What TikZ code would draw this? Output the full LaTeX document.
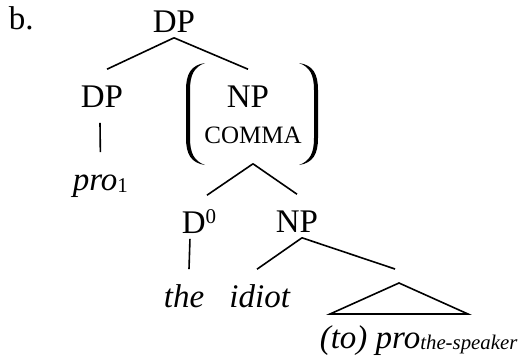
\documentclass[tikz,border=0pt]{standalone}
\usepackage{fontspec}
\setmainfont{Liberation Serif}

\begin{document}
\begin{tikzpicture}[x=0.5pt,y=-0.5pt,thick,
lab/.style={inner xsep=0pt, inner ysep=2.5pt, text height=16pt, text depth=0pt, anchor=base, font=\fontsize{16.5}{19}\selectfont}] % lab is every category or word of the tree, placed at its baseline, so the edges can start right under it
\useasboundingbox (0,0) rectangle (519,360);

\node[lab, anchor=base west](ex) at (8,29){b.};
\node[lab](dp) at (174,32){DP};% the root
\node[lab](dpl) at (102,107){DP};
\node[lab, anchor=base west](pro) at (72,190){\textit{pro}\raisebox{-1pt}{\fontsize{10.5}{10.5}\selectfont 1}};
\node[lab](np) at (248,107){NP};
\node[lab, font=\fontsize{12.5}{14}\selectfont](comma) at (253,143){COMMA};
\node[lab, anchor=base west](d) at (181,233){D\raisebox{5pt}{\fontsize{10.5}{10.5}\selectfont 0}};
\node[lab](npl) at (297,232){NP};
\node[lab](the) at (184,307){\textit{the}};
\node[lab](idiot) at (260,307){\textit{idiot}};
\coordinate (tri) at (399,283);% top of the triangle
\node[lab, anchor=base west](tobj) at (319,348){\textit{(to) pro}\raisebox{-0.5pt}{\fontsize{10.4}{11}\selectfont\textit{the-speaker}}};

% round brackets around NP / COMMA, filled so they get thin at the ends
\fill (205,63) .. controls (191,65) and (186,74) .. (186,90) -- (186,138) .. controls (186,154) and (191,163) .. (205,165) .. controls (194,161) and (190,153) .. (190,138) -- (190,90) .. controls (190,75) and (194,67) .. (205,63) -- cycle;
\fill (299,63) .. controls (313,65) and (318,74) .. (318,90) -- (318,138) .. controls (318,154) and (313,163) .. (299,165) .. controls (310,161) and (314,153) .. (314,138) -- (314,90) .. controls (314,75) and (310,67) .. (299,63) -- cycle;

% the branches
\path(dp.south)edge([xshift=2.5pt]dpl.north);
\path(dp.south)edge(np.north);
\path([xshift=-1pt,yshift=-5pt]dpl.south)edge(pro.north);
\path([yshift=-7.5pt]comma.south)edge([xshift=4pt]d.north);
\path([yshift=-7.5pt]comma.south)edge(npl.north);
\path([xshift=-4.5pt]d.south)edge([xshift=2.5pt]the.north);
\path([xshift=2.5pt]npl.south)edge([xshift=-1.5pt]idiot.north);
\path([xshift=2.5pt]npl.south)edge([xshift=-2pt,yshift=7pt]tri);
\draw(tri)--++(-69,31)--++(138,0)--cycle;% roof over the PP

\end{tikzpicture}
\end{document}
